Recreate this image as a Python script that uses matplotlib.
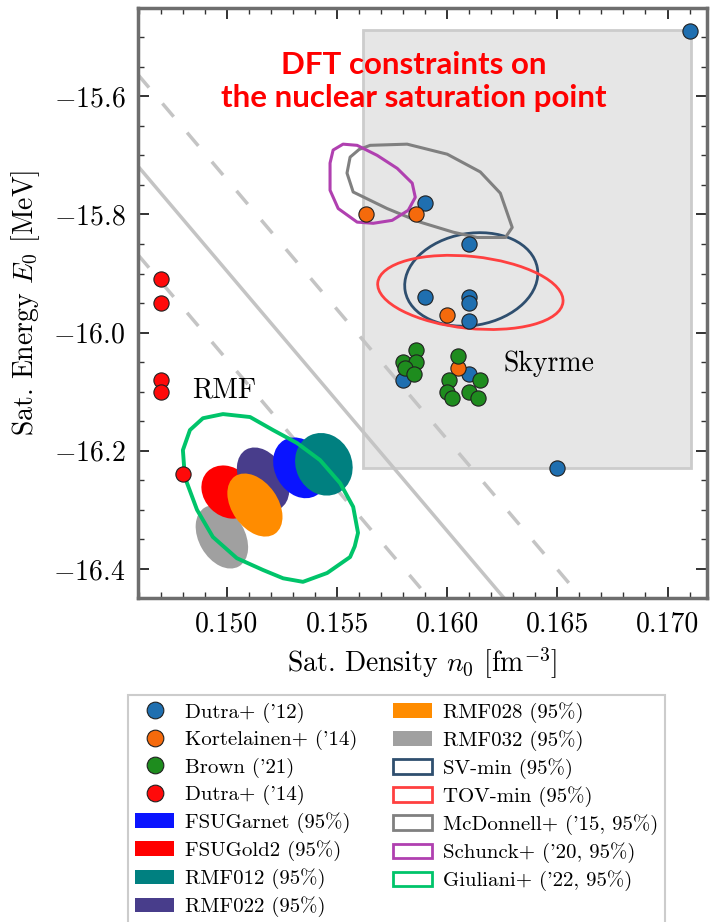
import numpy as np
import matplotlib
matplotlib.use('Agg')
import matplotlib.pyplot as plt
from matplotlib.patches import Ellipse, Polygon, Rectangle, Patch
from matplotlib.lines import Line2D
from matplotlib.transforms import Affine2D

plt.rcParams['font.family'] = ['cmr10', 'DejaVu Serif']
plt.rcParams['mathtext.fontset'] = 'cm'
plt.rcParams['axes.formatter.use_mathtext'] = True
plt.rcParams['axes.unicode_minus'] = True

# --- point sets (n0 [fm^-3], E0 [MeV]) ---
dutra12_n = [0.1710, 0.1590, 0.1610, 0.1590, 0.1610, 0.1610, 0.1610, 0.1580, 0.1610, 0.1650]
dutra12_E = [-15.49, -15.78, -15.85, -15.94, -15.94, -15.95, -15.98, -16.08, -16.07, -16.23]

kort_n = [0.1563, 0.1586, 0.1600, 0.1605]
kort_E = [-15.80, -15.80, -15.97, -16.06]

brown_n = [0.1586, 0.1580, 0.1586, 0.1581, 0.1585, 0.1605, 0.1601, 0.1615, 0.1600, 0.1610, 0.1602, 0.1614]
brown_E = [-16.03, -16.05, -16.05, -16.06, -16.07, -16.04, -16.08, -16.08, -16.10, -16.10, -16.11, -16.11]

dutra14_n = [0.1470, 0.1470, 0.1470, 0.1470, 0.1480]
dutra14_E = [-15.91, -15.95, -16.08, -16.10, -16.24]

# --- filled RMF 95% ellipses: centre n, centre E ---
rmf_names = ['FSUGarnet (95%)', 'FSUGold2 (95%)', 'RMF012 (95%)', 'RMF022 (95%)',
             'RMF028 (95%)', 'RMF032 (95%)']
rmf_colors = ['#0a14ff', '#ff0000', '#008080', '#483d8b', '#ff8c00', '#a0a0a0']
rmf_n = [0.15332, 0.15005, 0.15440, 0.15164, 0.15127, 0.14977]
rmf_E = [-16.229, -16.270, -16.223, -16.248, -16.292, -16.346]

# --- outline ellipses (Skyrme) ---
sv_n, sv_E = 0.16109, -15.910
tov_n, tov_E = 0.16105, -15.932

# --- irregular 95% contours ---
mcd_n = [0.15559, 0.15600, 0.15650, 0.15818, 0.16000, 0.16150, 0.16241, 0.16295,
         0.16264, 0.16136, 0.16027, 0.15877, 0.15727, 0.15573, 0.15545]
mcd_E = [-15.703, -15.690, -15.683, -15.681, -15.698, -15.728, -15.764, -15.822,
         -15.839, -15.839, -15.830, -15.813, -15.790, -15.762, -15.730]

sch_n = [0.15482, 0.15527, 0.15591, 0.15682, 0.15773, 0.15841, 0.15855, 0.15823,
         0.15750, 0.15664, 0.15591, 0.15505, 0.15468, 0.15468]
sch_E = [-15.691, -15.681, -15.683, -15.700, -15.722, -15.747, -15.771, -15.793,
         -15.810, -15.815, -15.813, -15.790, -15.759, -15.713]

giu_n = [0.14800, 0.14832, 0.14891, 0.14982, 0.15105, 0.15209, 0.15318, 0.15423,
         0.15514, 0.15573, 0.15595, 0.15580, 0.15559, 0.15455, 0.15345, 0.15255,
         0.15164, 0.15045, 0.14936, 0.14864, 0.14809]
giu_E = [-16.199, -16.165, -16.145, -16.138, -16.143, -16.165, -16.187, -16.216,
         -16.255, -16.295, -16.339, -16.362, -16.380, -16.407, -16.422, -16.416,
         -16.402, -16.382, -16.346, -16.300, -16.245]

# Skyrme box and diagonal bands
box_n = [0.15618, 0.17105]
box_E = [-16.229, -15.488]
band_E = [-15.565, -15.720, -15.870]   # value at n0 = 0.146
band_slope = -44.0

fig = plt.figure(figsize=[7.1, 9.22], dpi=100)
ax = fig.add_axes([0.194, 0.351, 0.802, 0.640])
ax.set_xlim(0.14595, 0.1718)
ax.set_ylim(-16.449, -15.451)

# pixel-like scaling so ellipses can be tilted on screen
sx, sy = 1 / 22000., 1 / 591.
pix = Affine2D().scale(sx, sy) + ax.transData

ax.add_patch(Rectangle((box_n[0], box_E[0]), box_n[1] - box_n[0], box_E[1] - box_E[0],
                       facecolor='#e6e6e6', edgecolor='#cccccc', lw=2, zorder=0))

for c, ls in zip(band_E, ['--', '-', '--']):
    ax.axline((0.146, c), slope=band_slope, color='#c4c4c4', lw=2.5, ls=ls,
              dashes=(5, 6) if ls == '--' else (None, None), zorder=1)

# filled ellipses (order: gray, red, purple, orange, blue, teal)
ell_size = {'FSUGarnet (95%)': (64, 50, -60), 'FSUGold2 (95%)': (58, 48, -45),
            'RMF012 (95%)': (64, 56, -65), 'RMF022 (95%)': (68, 46, -60),
            'RMF028 (95%)': (70, 46, -55), 'RMF032 (95%)': (68, 46, -60)}
draw_order = [5, 1, 3, 4, 0, 2]
for i in draw_order:
    w, h, a = ell_size[rmf_names[i]]
    ax.add_patch(Ellipse((rmf_n[i] / sx, rmf_E[i] / sy), w, h, angle=a,
                         facecolor=rmf_colors[i], edgecolor='none',
                         transform=pix, zorder=2))

ax.add_patch(Ellipse((sv_n / sx, sv_E / sy), 134, 92, angle=10, facecolor='none',
                     edgecolor='#2f4f6f', lw=2, transform=pix, zorder=3))
ax.add_patch(Ellipse((tov_n / sx, tov_E / sy), 186, 72, angle=-6, facecolor='none',
                     edgecolor='#ff4040', lw=2, transform=pix, zorder=3))
ax.add_patch(Polygon(np.column_stack([mcd_n, mcd_E]), closed=True, facecolor='none',
                     edgecolor='#808080', lw=2.2, joinstyle='round', zorder=3))
ax.add_patch(Polygon(np.column_stack([sch_n, sch_E]), closed=True, facecolor='none',
                     edgecolor='#b040b0', lw=2.2, joinstyle='round', zorder=3))
ax.add_patch(Polygon(np.column_stack([giu_n, giu_E]), closed=True, facecolor='none',
                     edgecolor='#00c46a', lw=2.8, joinstyle='round', zorder=3))

pt = dict(s=120, edgecolors='#202020', linewidths=0.8, zorder=4)
ax.scatter(dutra12_n, dutra12_E, color='#1f6fb0', **pt)
ax.scatter(kort_n, kort_E, color='#f56a0c', **pt)
ax.scatter(brown_n, brown_E, color='#1e8c1e', **pt)
ax.scatter(dutra14_n, dutra14_E, color='#ff0a0a', **pt)

ax.text(0.14841, -16.097, 'RMF', fontsize=20, va='center', ha='left')
ax.text(0.16255, -16.052, 'Skyrme', fontsize=20, va='center', ha='left')
ax.text(0.1585, -15.575, 'DFT constraints on\nthe nuclear saturation point',
        family='Lato', weight='bold', color='#ff0000', fontsize=22.5,
        ha='center', va='center', linespacing=1.2, zorder=5)

ax.set_xticks([0.150, 0.155, 0.160, 0.165, 0.170])
ax.set_xticklabels(['0.150', '0.155', '0.160', '0.165', '0.170'])
ax.set_yticks([-15.6, -15.8, -16.0, -16.2, -16.4])
ax.set_xticks(np.arange(0.146, 0.1719, 0.001), minor=True)
ax.set_yticks(np.arange(-16.45, -15.45, 0.05), minor=True)
ax.tick_params(which='both', direction='in', top=True, right=True, labelsize=20,
               color='#333333')
ax.tick_params(which='major', length=8, width=1.4, pad=9)
ax.tick_params(which='minor', length=4, width=1.0)
for s in ax.spines.values():
    s.set_color('#6e6e6e')
    s.set_linewidth(2.5)

ax.set_xlabel('Sat. Density $n_0$ [fm$^{-3}$]', fontsize=20, labelpad=6)
ax.set_ylabel('Sat. Energy $E_0$ [MeV]', fontsize=20, labelpad=8)

handles = [
    Line2D([], [], ls='none', marker='o', ms=12, mfc='#1f6fb0', mec='#202020', mew=0.8),
    Line2D([], [], ls='none', marker='o', ms=12, mfc='#f56a0c', mec='#202020', mew=0.8),
    Line2D([], [], ls='none', marker='o', ms=12, mfc='#1e8c1e', mec='#202020', mew=0.8),
    Line2D([], [], ls='none', marker='o', ms=12, mfc='#ff0a0a', mec='#202020', mew=0.8),
]
labels = ["Dutra+ ('12)", "Kortelainen+ ('14)", "Brown ('21)", "Dutra+ ('14)"]
for i in [0, 1, 2, 3, 4, 5]:
    handles.append(Patch(facecolor=rmf_colors[i], edgecolor='none'))
    labels.append(rmf_names[i])
for lab, col in [('SV-min (95%)', '#2f4f6f'), ('TOV-min (95%)', '#ff4040'),
                 ("McDonnell+ ('15, 95%)", '#808080'), ("Schunck+ ('20, 95%)", '#b040b0'),
                 ("Giuliani+ ('22, 95%)", '#00c46a')]:
    handles.append(Patch(facecolor='white', edgecolor=col, lw=2))
    labels.append(lab)

leg = fig.legend(handles, labels, ncol=2, loc='upper left',
                 bbox_to_anchor=(128 / 710., 1 - 695 / 922.), borderaxespad=0,
                 fontsize=15, labelspacing=0.35, handlelength=1.9, handleheight=0.7,
                 handletextpad=0.5, columnspacing=1.7, borderpad=0.33,
                 fancybox=False, framealpha=1, edgecolor='#cccccc')
leg.get_frame().set_linewidth(1.5)

fig.savefig('out.png', dpi=100)
